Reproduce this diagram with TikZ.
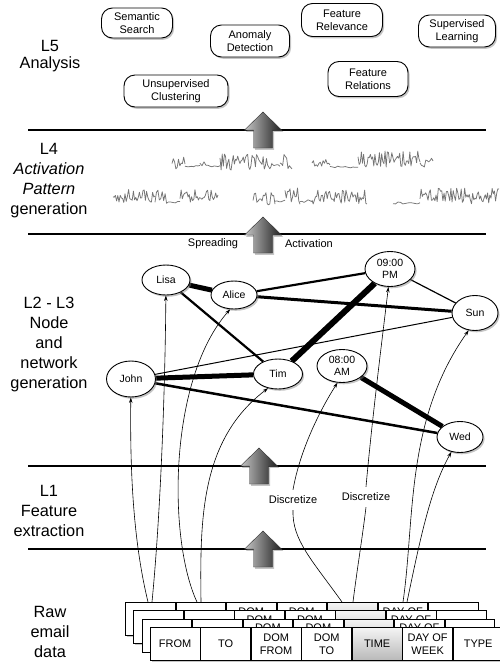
\documentclass[tikz,border=0pt]{standalone}
\usepackage{fontspec}
\setmainfont{Liberation Sans}
\usetikzlibrary{shadows,arrows.meta,calc,shapes.geometric}
\pgfdeclarelayer{bg}
\pgfsetlayers{bg,main}
\newcommand\wvseg[5]{\draw[wave] plot[domain=#1:#2, samples=#5, variable=\t] (\t,{#3+#4*rand});}
\begin{document}
\begin{tikzpicture}[x=1pt,y=-1pt,
  shad/.style={drop shadow={shadow xshift=1.6pt,shadow yshift=-1.8pt,opacity=.45}},
  lab/.style={font=\fontsize{16.3}{20}\selectfont, align=center},
  task/.style={draw, line width=.9pt, fill=white, rounded corners=11pt, align=center,
    font=\fontsize{11}{13.3}\selectfont, inner sep=0pt, shad},
  ent/.style={ellipse, draw, line width=.9pt, fill=white, align=center,
    font=\fontsize{10.5}{12}\selectfont, inner sep=0pt, shad},
  link/.style={line width=#1},
  feed/.style={-{Stealth[length=5.5pt,width=3.5pt]}, line width=.6pt},
  sep/.style={line width=1.3pt},
  small/.style={font=\fontsize{11}{12}\selectfont},
  cell/.style={draw, line width=.8pt, fill=white, minimum width=49.7pt, minimum height=33pt,
    inner sep=0pt, align=center, font=\fontsize{11}{13}\selectfont},
  timecell/.style={cell, top color=gray!8, bottom color=gray!55},
  peek/.style={font=\fontsize{11}{13}\selectfont, inner sep=0pt, anchor=north},
  wave/.style={gray!55!black, opacity=.75, line width=.75pt, line join=round},
  blockarrow/.pic={\path[left color=gray!45, right color=gray!25!black, draw=gray!40!black,
     line width=.4pt, shad]
     (0,0) -- (18.5,18) -- (9.5,18) -- (9.5,36) -- (-9.5,36) -- (-9.5,18) -- (-18.5,18) -- cycle;}
]
\useasboundingbox (0,0) rectangle (499,667);
\begin{pgfonlayer}{bg}
\fill[white] (0,0) rectangle (499,667);
\end{pgfonlayer}

% left labels
\node[lab, font=\fontsize{16.3}{17}\selectfont] (l5) at (50,56) {L5\\Analysis};
\node[lab] (l4) at (49,181) {L4\\\textit{Activation}\\\textit{Pattern}\\generation};
\node[lab] (l23) at (49,344) {L2 - L3\\Node\\and\\network\\generation};
\node[lab] (l1) at (49,511) {L1\\Feature\\extraction};
\node[lab] (raw) at (50,632) {Raw\\email\\data};

% separator lines
\coordinate (h1a) at (28,130); \coordinate (h1b) at (486,130);
\coordinate (h2a) at (28,234); \coordinate (h2b) at (486,234);
\coordinate (h3a) at (28,466); \coordinate (h3b) at (486,466);
\coordinate (h4a) at (28,549); \coordinate (h4b) at (486,549);
\draw[sep] (h1a) -- (h1b);
\draw[sep] (h2a) -- (h2b);
\draw[sep] (h3a) -- (h3b);
\draw[sep] (h4a) -- (h4b);

% L5 analysis tasks
\node[task, minimum width=71pt, minimum height=30pt] (sem) at (137,23) {Semantic\\Search};
\node[task, minimum width=79pt, minimum height=32pt] (ano) at (250,41) {Anomaly\\Detection};
\node[task, minimum width=81pt, minimum height=33pt] (frv) at (342,20) {Feature\\Relevance};
\node[task, minimum width=77pt, minimum height=32pt] (sup) at (457,31) {Supervised\\Learning};
\node[task, minimum width=80pt, minimum height=35pt] (frl) at (368,79) {Feature\\Relations};
\node[task, minimum width=104pt, minimum height=32pt] (uns) at (176,91) {Unsupervised\\Clustering};

% block arrows
\pic (ba1) at (263,112) {blockarrow};
\pic (ba2) at (263,217) {blockarrow};
\pic (ba3) at (259,448) {blockarrow};
\pic (ba4) at (263,531) {blockarrow};
\node[small] (spr) at (213,244) {Spreading};
\node[small] (act) at (309,244) {Activation};

% activation patterns
\pgfmathsetseed{7}
\wvseg{172}{185}{162}{7}{11}
\wvseg{185}{200}{166}{0.8}{8}
\wvseg{200}{206}{162}{4}{4}
\wvseg{206}{220}{166}{0.8}{8}
\wvseg{220}{272}{162}{8}{48}
\wvseg{272}{280}{165}{1.5}{5}
\wvseg{280}{292}{162}{8}{10}

\wvseg{312}{330}{163}{3.5}{14}
\wvseg{330}{358}{167}{0.8}{12}
\wvseg{358}{420}{159}{8}{56}
\wvseg{420}{433}{162}{5}{10}

\wvseg{113}{155}{196}{7}{36}
\wvseg{155}{168}{197}{7}{10}
\wvseg{168}{180}{202}{1}{6}
\wvseg{180}{218}{196}{7}{34}

\wvseg{253}{275}{198}{7}{18}
\wvseg{275}{285}{201}{1}{6}
\wvseg{285}{300}{196}{9}{13}
\wvseg{300}{312}{201}{1.5}{7}
\wvseg{312}{367}{197}{7}{48}

\wvseg{393}{420}{203}{1}{12}
\wvseg{420}{499}{196}{8}{70}

% network nodes
\node[ent, minimum width=48pt, minimum height=30pt] (lisa) at (166,280) {Lisa};
\node[ent, minimum width=46pt, minimum height=28pt] (alice) at (234,295) {Alice};
\node[ent, minimum width=50pt, minimum height=35pt] (pm) at (390,269) {09:00\\PM};
\node[ent, minimum width=46pt, minimum height=35pt] (sun) at (475,313) {Sun};
\node[ent, minimum width=49pt, minimum height=36pt] (john) at (131,379) {John};
\node[ent, minimum width=49pt, minimum height=30pt] (tim) at (278,374) {Tim};
\node[ent, minimum width=50pt, minimum height=33pt] (am) at (342,366) {08:00\\AM};
\node[ent, minimum width=46pt, minimum height=31pt] (wed) at (460,437) {Wed};

\begin{pgfonlayer}{bg}
\draw[link=5pt] (lisa) -- (alice);
\draw[link=2.2pt] (lisa) -- (tim);
\draw[link=2.2pt] (alice) -- (pm);
\draw[link=3pt] (alice) -- (sun);
\draw[link=1.2pt] (pm) -- (sun);
\draw[link=6pt] (pm) -- (tim);
\draw[link=1pt] (john) -- (sun);
\draw[link=5pt] (john) -- (tim);
\draw[link=2.5pt] (john) -- (wed);
\draw[link=5pt] (am) -- (wed);
\end{pgfonlayer}

% discretize labels
\node[small, fill=white, inner xsep=1pt, inner ysep=6pt] (d1) at (293,500) {Discretize};
\node[small, fill=white, inner xsep=1pt, inner ysep=6pt] (d2) at (366,497) {Discretize};

% raw email data table: three stacked copies behind the front one
\foreach \k in {0,1,2}{
  \pgfmathsetmacro\ox{125+8.3*\k}
  \pgfmathsetmacro\oy{602+8.3*\k}
  \fill[white, shad] (\ox,\oy) rectangle ++(348,33);
  \node[cell, anchor=north west] (c\k a) at (\ox,\oy) {};
  \node[cell, anchor=north west] (c\k b) at ($(c\k a.north east)$) {};
  \node[cell, anchor=north west] (c\k c) at ($(c\k b.north east)$) {};
  \node[cell, anchor=north west] (c\k d) at ($(c\k c.north east)$) {};
  \node[timecell, anchor=north west] (c\k e) at ($(c\k d.north east)$) {};
  \node[cell, anchor=north west] (c\k f) at ($(c\k e.north east)$) {};
  \node[cell, anchor=north west] (c\k g) at ($(c\k f.north east)$) {};
  \node[peek] (p\k c) at ($(c\k c.north)+(0,5.3)$) {DOM};
  \node[peek] (p\k d) at ($(c\k d.north)+(0,5.3)$) {DOM};
  \node[peek] (p\k f) at ($(c\k f.north)+(0,5.3)$) {DAY OF};
}
% front copy
\fill[white, shad] (149.9,626.9) rectangle ++(348,33);
\node[cell, anchor=north west] (fa) at (149.9,626.9) {FROM};
\node[cell, anchor=north west] (fb) at (fa.north east) {TO};
\node[cell, anchor=north west] (fc) at (fb.north east) {DOM\\FROM};
\node[cell, anchor=north west] (fd) at (fc.north east) {DOM\\TO};
\node[timecell, anchor=north west] (fe) at (fd.north east) {TIME};
\node[cell, anchor=north west] (ff) at (fe.north east) {DAY OF\\WEEK};
\node[cell, anchor=north west] (fg) at (ff.north east) {TYPE};

% feature sources
\coordinate (sJ) at (148,602);
\coordinate (sL) at (152,602);
\coordinate (sA) at (197,602);
\coordinate (sT) at (201,602);
\coordinate (sAM) at (342,602);
\coordinate (sPM) at (353,602);
\coordinate (sS) at (403,602);
\coordinate (sW) at (407,602);

\draw[feed] (sJ) .. controls (133,540) and (130,470) .. (john);
\draw[feed] (sL) .. controls (160,520) and (165,400) .. (lisa);
\draw[feed] (sA) .. controls (168,540) and (168,380) .. (alice.-105);
\draw[feed] (sT) .. controls (200,520) and (200,440) .. (tim.-125);
\draw[line width=.6pt] (sAM) .. controls (312,560) and (292,540) .. (d1.south);
\draw[feed] (d1.north) .. controls (300,450) and (320,410) .. (am.-105);
\draw[line width=.6pt] (sPM) .. controls (357,570) and (362,540) .. (d2.south);
\draw[feed] (d2.north) .. controls (372,420) and (382,340) .. (pm.-95);
\draw[feed] (sS) .. controls (415,520) and (405,420) .. (sun.-110);
\draw[feed] (sW) .. controls (420,540) and (430,490) .. (wed.-120);
\end{tikzpicture}
\end{document}
